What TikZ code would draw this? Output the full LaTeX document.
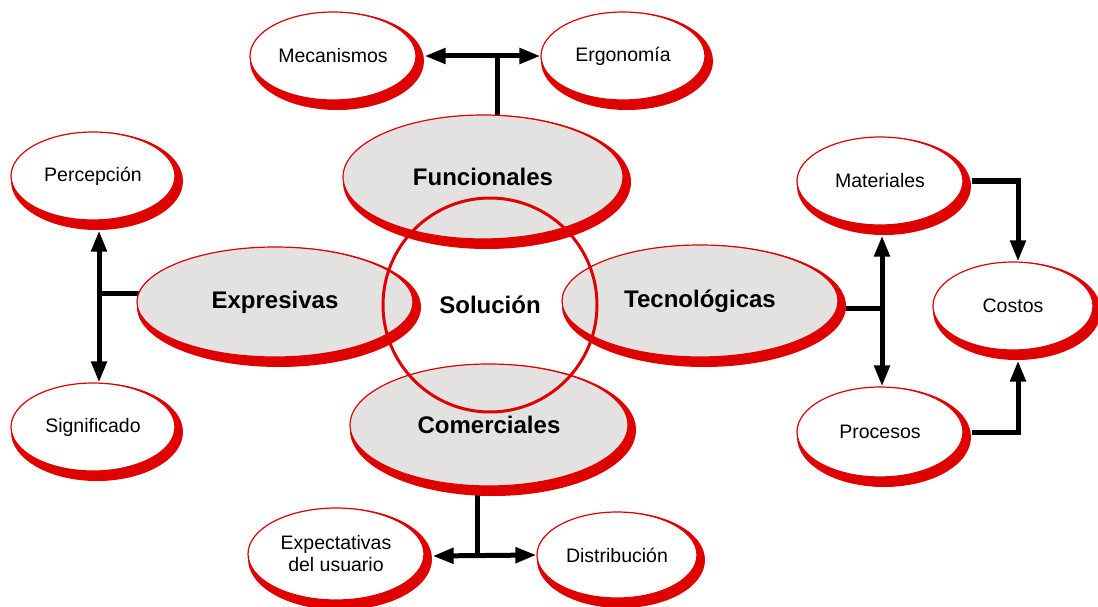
\documentclass[tikz,border=0pt]{standalone}
\usepackage{fontspec}
\setmainfont{Liberation Sans}
\usetikzlibrary{arrows.meta,calc,positioning,shapes.geometric}
\definecolor{rojoBorde}{HTML}{DF0000}
\definecolor{grisRelleno}{HTML}{E4E2E0}
% elipse con sombra roja: nombre, centro, ancho, alto, estilo, texto
\newcommand{\elipse}[6]{%
  \fill[rojoBorde] ($(#2)+(4,5)$) ellipse [x radius=#3/2+4, y radius=#4/2+5];
  \node[#5,minimum width=#3pt,minimum height=#4pt] (#1) at (#2) {#6};}

\begin{document}
\begin{tikzpicture}[x=1pt, y=-1pt,
  every node/.style={font=\fontsize{19.5}{22}\selectfont},
  aspecto/.style={ellipse, draw=rojoBorde, line width=1.2pt, fill=white, inner sep=0pt},
  grupo/.style={aspecto, fill=grisRelleno, font=\fontsize{24}{28}\selectfont\bfseries},
  linea/.style={line width=5pt},
  flecha/.style={linea, -{Triangle[length=21pt,width=15pt]}},
  doble/.style={linea, {Triangle[length=21pt,width=15pt]}-{Triangle[length=21pt,width=15pt]}}]
\useasboundingbox (0,0) rectangle (1098,607);
% criterios secundarios
\elipse{mec}{333,56}{166}{88}{aspecto}{Mecanismos}
\elipse{erg}{623,56}{164}{88}{aspecto}{Ergonomía}
\elipse{per}{93,176}{164}{88}{aspecto}{Percepción}
\elipse{sig}{93,427}{164}{88}{aspecto}{Significado}
\elipse{mat}{880,181}{166}{88}{aspecto}{Materiales}
\elipse{pro}{880,432}{166}{90}{aspecto}{Procesos}
\elipse{cos}{1013,306}{160}{88}{aspecto}{Costos}
\elipse{exp}{336,554}{176}{92}{aspecto,align=center}{Expectativas\\del usuario}
\elipse{dis}{617,555}{160}{86}{aspecto}{Distribución}
% uniones
\coordinate (fUnion) at (497,57);
\coordinate (eUnion) at (99,293);
\coordinate (tUnion) at (882,308);
\coordinate (cUnion) at (1018,306);
\coordinate (cmUnion) at (477,556);
\draw[doble] ($(mec.east)+(8,0)$) -- (erg.west);
\draw[linea] (fUnion) -- (fUnion |- 0,140);
\draw[doble] ($(per.south -| eUnion)+(0,10)$) -- (sig.north -| eUnion);
\draw[linea] (eUnion) -- (160,293);
\draw[doble] ($(mat.south -| tUnion)+(0,10)$) -- (pro.north -| tUnion);
\draw[linea] (820,308) -- (tUnion);
\draw[flecha] ($(mat.east)+(8,0)$) -| (cos.north -| cUnion);
\draw[flecha] ($(pro.east)+(8,0)$) -| ($(cos.south -| cUnion)+(0,10)$);
\draw[linea] (cmUnion |- 0,470) -- (cmUnion);
\draw[doble] ($(exp.east)+(8,2)$) -- (dis.west);
% criterios principales
\elipse{fun}{483,177}{280}{124}{grupo}{Funcionales}
\elipse{exr}{275,302}{276}{110}{grupo}{Expresivas}
\elipse{tec}{700,301}{276}{112}{grupo}{Tecnológicas}
\elipse{com}{489,425}{278}{122}{grupo}{Comerciales}
\node[circle,draw=rojoBorde,line width=3pt,minimum size=214pt,inner sep=0pt,
  font=\fontsize{24}{28}\selectfont\bfseries] (sol) at (490,305) {Solución};
\end{tikzpicture}
\end{document}
